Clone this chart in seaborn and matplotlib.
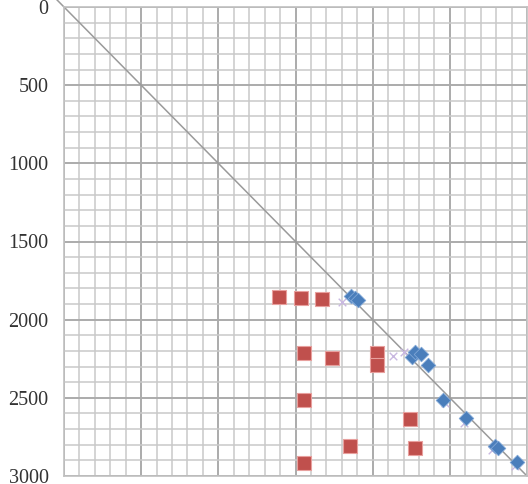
import matplotlib
matplotlib.use("Agg")
import matplotlib.pyplot as plt
import numpy as np
import pandas as pd
import seaborn as sns
from matplotlib.ticker import MultipleLocator

# red squares
red_x = [1395, 1535, 1674, 1558, 1734, 2030, 2030, 1558, 2245, 1852, 2275, 1558]
red_y = [1853, 1860, 1870, 2212, 2248, 2215, 2290, 2514, 2638, 2807, 2824, 2915]

# blue diamonds
blue_x = [1861, 1885, 1906, 2254, 2273, 2312, 2357, 2453, 2603, 2795, 2812, 2932]
blue_y = [1849, 1862, 1875, 2239, 2207, 2220, 2290, 2514, 2631, 2805, 2822, 2913]

# faint crosses along the 1:1 line
cross_x = [1800, 2130, 2200, 2470, 2590, 2770, 2920]
cross_y = [1890, 2232, 2205, 2530, 2660, 2835, 2935]

y_ticks = [0, 500, 1000, 1500, 2000, 2500, 3000]

red_df = pd.DataFrame({"x": red_x, "y": red_y})
blue_df = pd.DataFrame({"x": blue_x, "y": blue_y})
cross_df = pd.DataFrame({"x": cross_x, "y": cross_y})

sns.set_style("white")
plt.rcParams["font.family"] = ["Liberation Serif", "DejaVu Serif"]

fig = plt.figure(figsize=(5.28, 4.84), dpi=100)
ax = fig.add_axes([64 / 528, 8 / 484, 463 / 528, 469 / 484])

ax.set_xlim(0, 3000)
ax.set_ylim(3000, 0)

ax.xaxis.set_minor_locator(MultipleLocator(100))
ax.yaxis.set_minor_locator(MultipleLocator(100))
ax.xaxis.set_major_locator(MultipleLocator(500))
ax.set_yticks(y_ticks)
ax.grid(which="minor", color="#c9c9c9", linewidth=1.1)
ax.grid(which="major", color="#ababab", linewidth=1.4)
ax.set_axisbelow(True)

ax.plot([-150, 3000], [-150, 3000], color="#9a9a9a", linewidth=1.1,
        clip_on=False, zorder=2)

sns.scatterplot(data=cross_df, x="x", y="y", ax=ax, marker="x", s=30,
                color="#c9b8e0", linewidth=1.0, zorder=3)
sns.scatterplot(data=red_df, x="x", y="y", ax=ax, marker="s", s=110,
                color="#c0504d", edgecolor="#e8a09e", linewidth=0.8, zorder=4)
sns.scatterplot(data=blue_df, x="x", y="y", ax=ax, marker="D", s=55,
                color="#4a7ebb", edgecolor="#7fa6d6", linewidth=0.6, zorder=5)

ax.set_xlabel("")
ax.set_ylabel("")
ax.tick_params(axis="x", which="both", length=0, labelbottom=False)
ax.tick_params(axis="y", which="both", length=0, pad=11, labelsize=14.5,
               labelcolor="#333333")

for side in ["top", "left", "bottom", "right"]:
    ax.spines[side].set_color("#c0c0c0")
    ax.spines[side].set_linewidth(1.2)

fig.savefig("out.png", dpi=100)
